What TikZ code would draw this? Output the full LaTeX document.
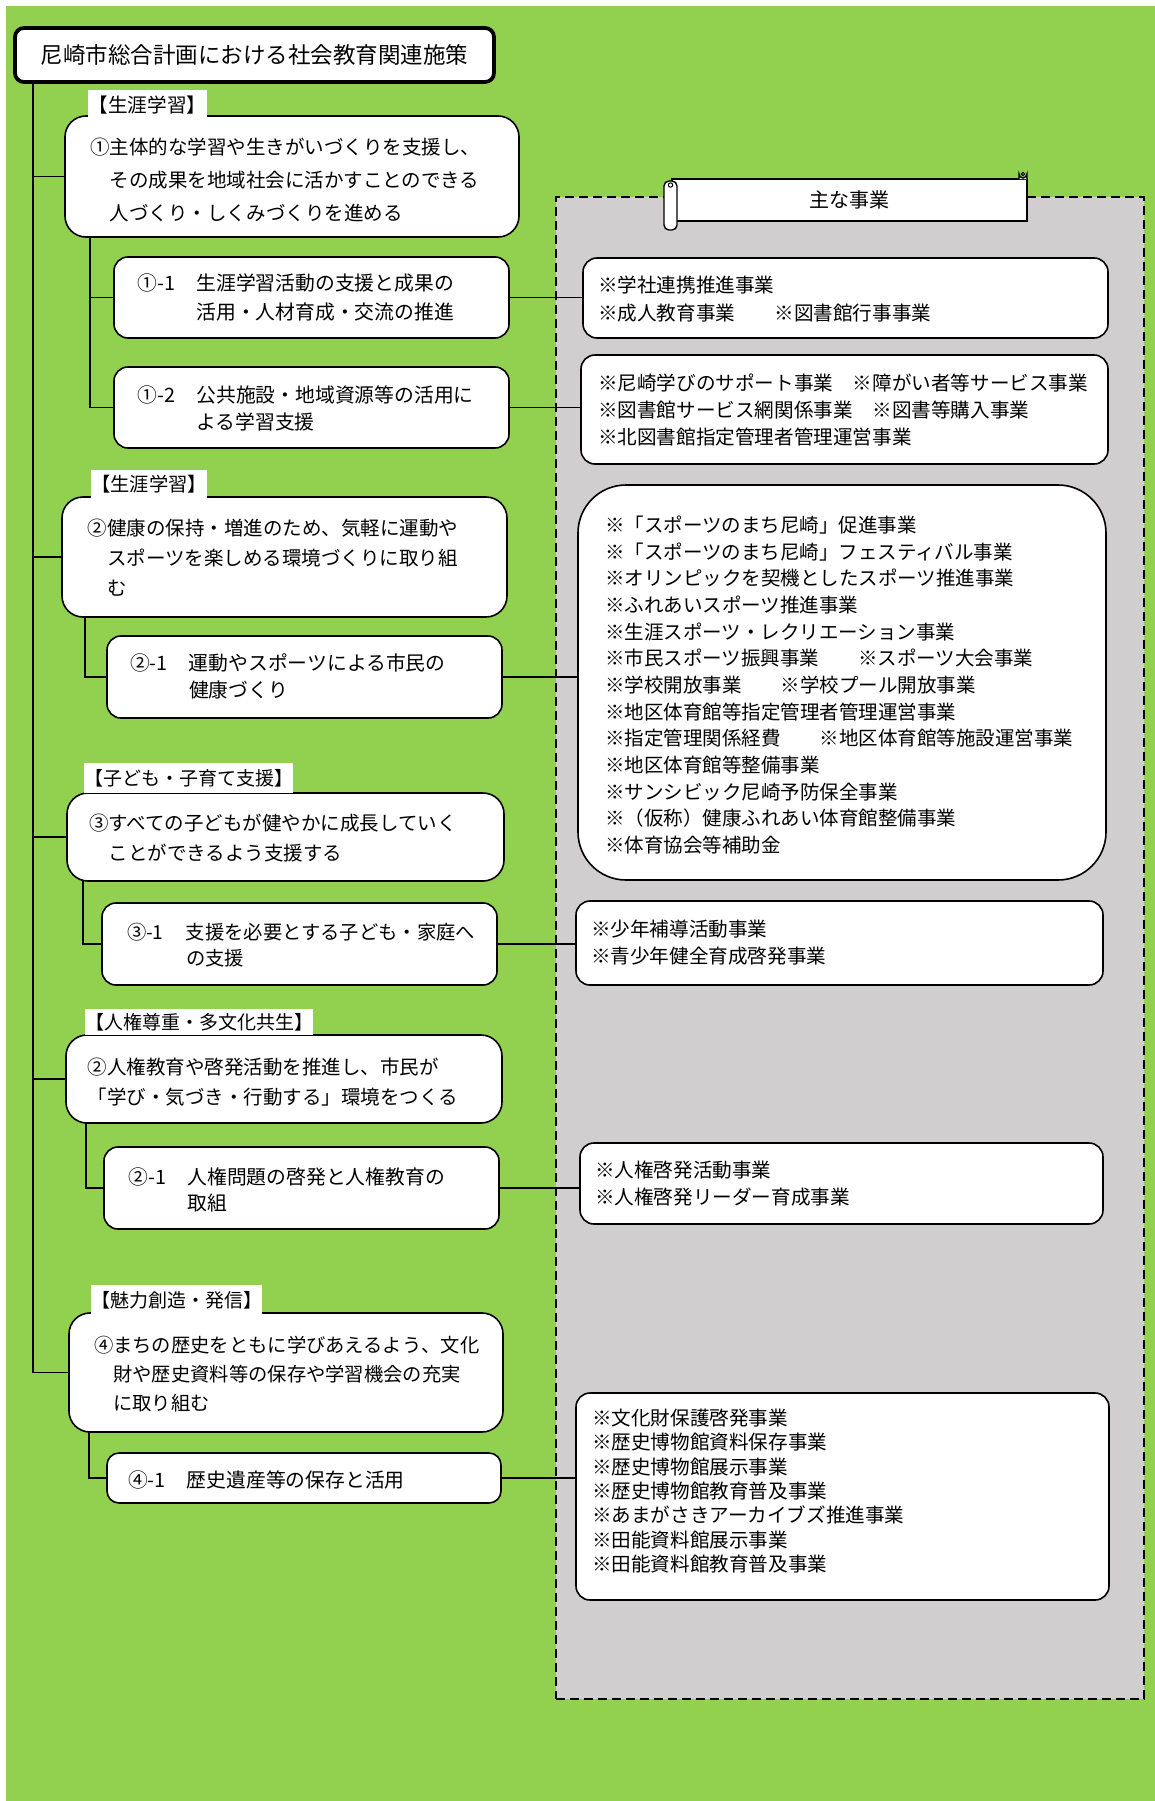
\documentclass[tikz,border=0pt]{standalone}
\usepackage{fontspec}
\setmainfont{Noto Sans CJK JP}
\definecolor{bggreen}{RGB}{146,208,80}
\definecolor{panelgray}{RGB}{208,206,206}
\newcommand{\mybox}[7][]{\node[#1, minimum width={(#5-#3)*1pt}, minimum height={(#6-#4)*1pt}] (#2) at ({(#3+#5)/2},{(#4+#6)/2}) {#7};}
\newcommand{\mytext}[6]{\node[anchor=base west, inner sep=0pt, outer sep=0pt] (#1) at (#2,#3) {\begin{minipage}[t]{600pt}\fontsize{#4}{#5}\selectfont #6\end{minipage}};}
\newcommand{\prefixbox}[2][59pt]{\makebox[#1][l]{#2}}
\tikzset{
  bx/.style={draw, fill=white, line width=1.6pt, rounded corners=14pt, inner sep=0pt, outer sep=0pt},
  mainbx/.style={bx, rounded corners=21pt},
  lbl/.style={fill=white, inner sep=0pt, outer sep=0pt, font=\fontsize{19}{22}\selectfont},
  conn/.style={line width=1.6pt},
  scrl/.style={draw, fill=white, line width=1.4pt},
}
\begin{document}
\begin{tikzpicture}[x=1pt,y=-1pt]
\useasboundingbox (0,0) rectangle (1155,1801);
\fill[bggreen] (6,6) rectangle (1155,1801);
% panel
\mybox[draw, fill=panelgray, line width=1.6pt, dash pattern=on 9pt off 5pt, inner sep=0pt, outer sep=0pt]{panel}{556}{197}{1144}{1699}{}
% title
\mybox[bx, line width=3.8pt, rounded corners=9pt, font=\fontsize{22.5}{26}\selectfont]{title}{15}{28}{494}{82}{尼崎市総合計画における社会教育関連施策}
% left boxes
\mybox[mainbx]{b1}{65}{116}{519}{237}{}
\mybox[bx]{b11}{114}{257}{509}{338}{}
\mybox[bx]{b12}{114}{367}{509}{448}{}
\mybox[mainbx]{b2}{62}{497}{507}{617}{}
\mybox[bx]{b21}{107}{636}{502}{718}{}
\mybox[mainbx]{b3}{67}{793}{504}{881}{}
\mybox[bx]{b31}{102}{903}{497}{985}{}
\mybox[mainbx]{b4}{66}{1035}{502}{1123}{}
\mybox[bx]{b41}{104}{1147}{499}{1229}{}
\mybox[mainbx]{b5}{69}{1313}{503}{1432}{}
\mybox[bx, rounded corners=12pt]{b51}{107}{1453}{501}{1503}{}
% right boxes
\mybox[bx]{r1}{583}{258}{1108}{338}{}
\mybox[bx]{r2}{581}{355}{1108}{464}{}
\mybox[bx, rounded corners=48pt]{r3}{578}{485}{1106}{880}{}
\mybox[bx]{r4}{576}{901}{1103}{985}{}
\mybox[bx]{r5}{580}{1143}{1103}{1224}{}
\mybox[bx]{r6}{576}{1393}{1109}{1600}{}
% labels
\mybox[lbl, font=\fontsize{19.6}{22}\selectfont]{l1}{88}{90}{207}{120}{【生涯学習】}
\mybox[lbl, font=\fontsize{19.3}{22}\selectfont]{l2}{91}{470}{207}{499}{【生涯学習】}
\mybox[lbl]{l3}{84}{763}{293}{793}{【子ども・子育て支援】}
\mybox[lbl]{l4}{85}{1009}{313}{1035}{【人権尊重・多文化共生】}
\mybox[lbl]{l5}{91}{1285}{262}{1315}{【魅力創造・発信】}
% texts
\mytext{t1}{90}{154.4}{19.5}{33}{①主体的な学習や生きがいづくりを支援し、\\\hspace*{1em}その成果を地域社会に活かすことのできる\\\hspace*{1em}人づくり・しくみづくりを進める}
\mytext{t11}{137.5}{290.5}{19.8}{29}{\prefixbox{①-1}生涯学習活動の支援と成果の\\\hspace*{59pt}活用・人材育成・交流の推進}
\mytext{t12}{137.5}{402.5}{19.8}{27}{\prefixbox{①-2}公共施設・地域資源等の活用に\\\hspace*{59pt}よる学習支援}
\mytext{t2}{87.5}{535.4}{19.5}{30}{②健康の保持・増進のため、気軽に運動や\\\hspace*{1em}スポーツを楽しめる環境づくりに取り組\\\hspace*{1em}む}
\mytext{t21}{130}{670.5}{19.8}{27}{\prefixbox{②-1}運動やスポーツによる市民の\\\hspace*{59pt}健康づくり}
\mytext{t3}{89}{830.4}{19.5}{30}{③すべての子どもが健やかに成長していく\\\hspace*{1em}ことができるよう支援する}
\mytext{t31}{127}{939.3}{19.3}{26}{\prefixbox{③-1}支援を必要とする子ども・家庭へ\\\hspace*{59pt}の支援}
\mytext{t4}{87.5}{1074.4}{19.5}{30}{②人権教育や啓発活動を推進し、市民が\\「学び・気づき・行動する」環境をつくる}
\mytext{t41}{128.5}{1184.5}{19.8}{26}{\prefixbox{②-1}人権問題の啓発と人権教育の\\\hspace*{59pt}取組}
\mytext{t5}{94}{1352.4}{19.3}{29}{④まちの歴史をともに学びあえるよう、文化\\\hspace*{1em}財や歴史資料等の保存や学習機会の充実\\\hspace*{1em}に取り組む}
\mytext{t51}{128}{1487.5}{19.8}{26}{\prefixbox{④-1}歴史遺産等の保存と活用}
\mytext{tr1}{598}{292.5}{19.6}{28}{※学社連携推進事業\\※成人教育事業　　※図書館行事事業}
\mytext{tr2}{598}{390.5}{19.6}{27}{※尼崎学びのサポート事業　※障がい者等サービス事業\\※図書館サービス網関係事業　※図書等購入事業\\※北図書館指定管理者管理運営事業}
\mytext{tr3}{605}{532.4}{19.5}{26.67}{※「スポーツのまち尼崎」促進事業\\※「スポーツのまち尼崎」フェスティバル事業\\※オリンピックを契機としたスポーツ推進事業\\※ふれあいスポーツ推進事業\\※生涯スポーツ・レクリエーション事業\\※市民スポーツ振興事業　　※スポーツ大会事業\\※学校開放事業　　※学校プール開放事業\\※地区体育館等指定管理者管理運営事業\\※指定管理関係経費　　※地区体育館等施設運営事業\\※地区体育館等整備事業\\※サンシビック尼崎予防保全事業\\※（仮称）健康ふれあい体育館整備事業\\※体育協会等補助金}
\mytext{tr4}{591}{936.5}{19.6}{27}{※少年補導活動事業\\※青少年健全育成啓発事業}
\mytext{tr5}{595}{1177.5}{19.6}{27}{※人権啓発活動事業\\※人権啓発リーダー育成事業}
\mytext{tr6}{592}{1425.5}{19.6}{24.3}{※文化財保護啓発事業\\※歴史博物館資料保存事業\\※歴史博物館展示事業\\※歴史博物館教育普及事業\\※あまがさきアーカイブズ推進事業\\※田能資料館展示事業\\※田能資料館教育普及事業}
% scroll banner
\draw[scrl] (672,179) rectangle (1027,221);
\draw[scrl] (1019,179) -- (1019,174) arc[start angle=180, end angle=0, radius=4] -- (1027,179);
\draw[line width=1pt] (1023,174) circle (1.7);
\draw[scrl, rounded corners=5pt] (664,181) rectangle (677,230);
\draw[line width=1pt] (670.5,185) circle (2.2);
\node[inner sep=0pt, font=\fontsize{20}{24}\selectfont] (scrolltxt) at (849,200) {主な事業};
% connectors
\coordinate (tr) at (33,0);
\coordinate (s1) at (90,0);
\coordinate (s2) at (85,0);
\coordinate (s3) at (83,0);
\coordinate (s4) at (86,0);
\coordinate (s5) at (89,0);
\draw[conn] (title.south -| tr) -- (b5.west -| tr);
\foreach \b in {b1,b2,b3,b4,b5} { \draw[conn] (\b.west -| tr) -- (\b.west); }
\draw[conn] (b1.south -| s1) -- (b12.west -| s1) -- (b12.west);
\draw[conn] (b11.west -| s1) -- (b11.west);
\draw[conn] (b2.south -| s2) -- (b21.west -| s2) -- (b21.west);
\draw[conn] (b3.south -| s3) -- (b31.west -| s3) -- (b31.west);
\draw[conn] (b4.south -| s4) -- (b41.west -| s4) -- (b41.west);
\draw[conn] (b5.south -| s5) -- (b51.west -| s5) -- (b51.west);
\draw[conn] (b11.east) -- (b11.east -| r1.west);
\draw[conn] (b12.east) -- (b12.east -| r2.west);
\draw[conn] (b21.east) -- (b21.east -| r3.west);
\draw[conn] (b31.east) -- (b31.east -| r4.west);
\draw[conn] (b41.east) -- (b41.east -| r5.west);
\draw[conn] (b51.east) -- (b51.east -| r6.west);
\end{tikzpicture}
\end{document}
